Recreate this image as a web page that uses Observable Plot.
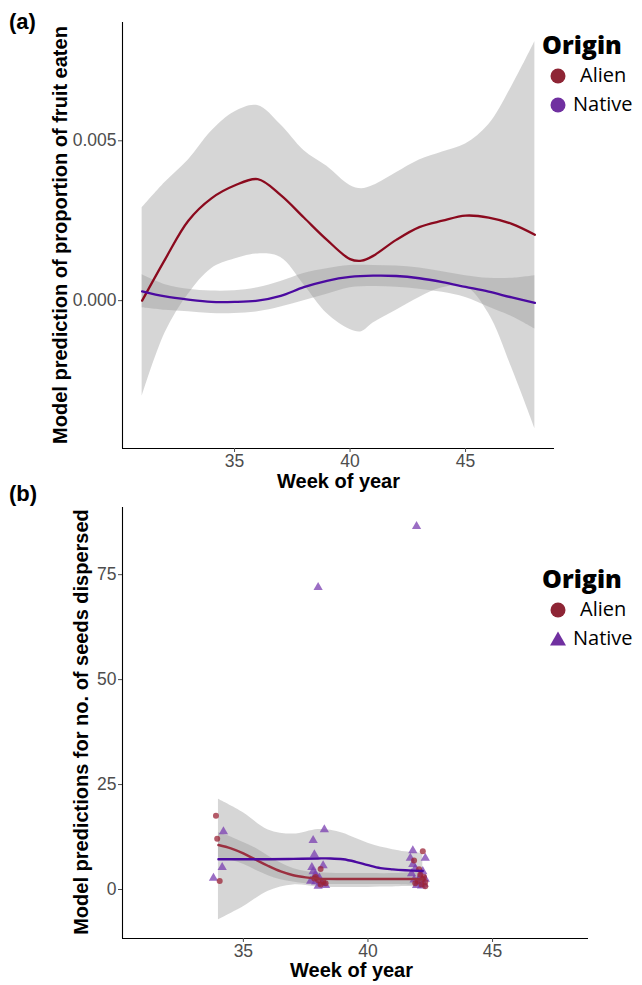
<!DOCTYPE html>
<html><head><meta charset="utf-8">
<script src="https://cdn.jsdelivr.net/npm/d3@7"></script>
<script src="https://cdn.jsdelivr.net/npm/@observablehq/plot@0.6"></script>
<style>
body{margin:0;background:#fff;}
#wrap{position:relative;width:642px;height:985px;overflow:hidden;font-family:"Liberation Sans",Arial,sans-serif;}
.abs{position:absolute;white-space:nowrap;}
.plabel{font-weight:bold;font-size:22px;color:#000;}
.axt{font-weight:bold;font-size:20px;color:#000;}
.legt{font-family:"Open Sans";font-weight:800;font-size:25px;color:#000;}
.legi{font-family:"Open Sans";font-size:20px;color:#000;}
svg text{font-size:17.5px;}
</style></head>
<body><div id="wrap"></div>
<script>
// ---------- Panel (a) data ----------
const xDomain = [30.15, 48.85];
const weekTicks = [35, 40, 45];
const yDomainA = [-0.004625, 0.0087];
const yTicksA = [0, 0.005];

const weeksAlienA = [31,32,33,34,35,36,37,38,39,40,40.5,41,42,43,44,45,46,47,48];
const fitAlienA = [0.0000,0.0013,0.0025,0.0032,0.0036,0.0038,0.0033,0.0026,0.0019,0.0013,0.00125,0.0014,0.0019,0.0023,0.0025,0.00266,0.0026,0.0024,0.00206];
const hiAlienA  = [0.0029,0.0037,0.0044,0.0053,0.0059,0.0061,0.0055,0.0047,0.0042,0.0036,0.0035,0.0036,0.0040,0.0044,0.00465,0.0049,0.0055,0.0067,0.0081];
const loAlienA  = [-0.0030,-0.0010,0.0002,0.0010,0.0013,0.00146,0.00135,0.0005,-0.0004,-0.0009,-0.00097,-0.0007,-0.0003,0.0001,0.0004,0.00045,-0.0004,-0.0021,-0.0040];

const weeksNativeA = [31,32,33,34,35,36,37,38,39,40,41,42,43,44,45,46,47,48];
const fitNativeA = [0.00029,0.00013,0.00003,-0.00004,-0.00004,0.0,0.00015,0.00042,0.00062,0.00074,0.00078,0.00077,0.0007,0.00058,0.00043,0.00028,0.0001,-0.00007];
const hiNativeA  = [0.00081,0.0005,0.00036,0.0003,0.00031,0.0004,0.0006,0.00085,0.001,0.0011,0.0011,0.00108,0.00102,0.0009,0.00078,0.0007,0.0007,0.00078];
const loNativeA  = [-0.00022,-0.0003,-0.00035,-0.0004,-0.0004,-0.00035,-0.0002,0.0,0.0002,0.0004,0.00044,0.00042,0.00036,0.00026,0.0001,-0.0002,-0.0005,-0.00089];

// ---------- Panel (b) data ----------
const yDomainB = [-11.67, 91];
const yTicksB = [0, 25, 50, 75];

const weeksAlienB = [34.0,34.5,35,35.5,36,36.5,37,37.5,38,39,40,41,42.2];
const fitAlienB = [10.6,9.8,8.6,7.1,5.6,4.3,3.4,2.9,2.6,2.5,2.5,2.5,2.5];
const hiAlienB  = [13.5,12.5,11.2,9.8,8.0,6.3,5.0,4.3,4.0,3.8,3.8,3.8,4.2];
const loAlienB  = [7.5,7.0,6.0,4.6,3.3,2.3,1.8,1.4,1.2,1.2,1.2,1.2,0.9];

const weeksNativeB = [34.0,35,36,37,38,38.5,39,39.5,40,40.5,41,41.5,42.2];
const fitNativeB = [7.2,7.2,7.2,7.3,7.4,7.4,7.2,6.6,5.8,5.1,4.8,4.6,4.4];
const hiNativeB  = [21.5,18.3,14.2,13.2,14.3,14.1,13.4,12.2,11.0,10.1,9.5,9.0,8.6];
const loNativeB  = [-7.2,-4.1,-0.4,1.1,0.6,0.5,0.5,0.5,0.5,0.6,0.6,0.7,0.5];

const alienPtWeek = [33.9,33.95,34.05, 38.1,37.9,38.0,38.2,38.3,37.85,38.1, 42.2,42.05,41.85,42.1,42.2,42.3,42.15,42.0,42.25,41.9,42.3];
const alienPtVal  = [17.6,12.1,2.0, 4.9,3.0,2.2,1.8,1.5,2.6,1.2, 9.1,4.8,6.9,3.5,2.5,1.8,1.2,2.0,3.0,1.5,0.8];
const nativePtWeek = [34.2,34.15,33.8, 38.0,38.25,37.8,37.85,38.2,37.75,37.8,37.9,38.05,37.7,38.15,38.3,38.0,37.9, 41.95,41.8,42.3,41.7,41.8,41.9,42.2,41.75,42.1,42.3,41.85,42.0,42.25,42.15,41.95];
const nativePtVal  = [13.8,5.3,2.7, 72.0,14.3,11.7,8.3,5.7,5.3,4.3,3.6,2.8,2.0,1.5,1.0,0.8,1.8, 86.5,9.3,7.5,7.5,6.0,5.0,4.3,3.8,3.2,2.5,2.3,1.8,1.3,0.9,1.0];

const originNames = ["Alien", "Native"];
const lineColA = {Alien: "#8B0A1E", Native: "#4B0AA0"};
const lineColB = {Alien: "#9B3040", Native: "#4B0AA0"};
const ptCol = {Alien: "#9B2335", Native: "#7A3DB0"};
const legCol = {Alien: "#8E2535", Native: "#7030A0"};

// ---------- helpers ----------
const rows = (w, fit, lo, hi, origin) => w.map((x, i) => ({w: x, fit: fit[i], lo: lo[i], hi: hi[i], origin}));
const ptsRows = (w, v, origin) => w.map((x, i) => ({w: x, v: v[i], origin}));

const wrap = document.getElementById("wrap");
function place(el, left, top) { el.style.position = "absolute"; el.style.left = left + "px"; el.style.top = top + "px"; wrap.appendChild(el); }
function txt(cls, s, left, top, rot) {
  const d = document.createElement("div"); d.className = "abs " + cls; d.textContent = s;
  d.style.left = left + "px"; d.style.top = top + "px";
  if (rot) { d.style.transform = "translate(-50%,-50%) rotate(-90deg)"; }
  wrap.appendChild(d); return d;
}
const baseStyle = {fontSize: "17.5px", fontFamily: "'Liberation Sans', Arial, sans-serif", background: "transparent", overflow: "visible"};

// ---------- Panel (a) ----------
const alienA = rows(weeksAlienA, fitAlienA, loAlienA, hiAlienA, "Alien");
const nativeA = rows(weeksNativeA, fitNativeA, loNativeA, hiNativeA, "Native");
const plotA = Plot.plot({
  width: 642, height: 490, marginLeft: 122, marginRight: 88, marginTop: 22, marginBottom: 42,
  style: baseStyle,
  x: {domain: xDomain}, y: {domain: yDomainA},
  marks: [
    Plot.areaY(alienA, {x: "w", y1: "lo", y2: "hi", fill: "#999999", fillOpacity: 0.4, curve: "catmull-rom"}),
    Plot.areaY(nativeA, {x: "w", y1: "lo", y2: "hi", fill: "#999999", fillOpacity: 0.4, curve: "catmull-rom"}),
    Plot.line(alienA, {x: "w", y: "fit", stroke: lineColA.Alien, strokeWidth: 2.3, curve: "catmull-rom"}),
    Plot.line(nativeA, {x: "w", y: "fit", stroke: lineColA.Native, strokeWidth: 2.3, curve: "catmull-rom"}),
    Plot.ruleX([xDomain[0]], {stroke: "#000", strokeWidth: 1.1}),
    Plot.ruleY([yDomainA[0]], {stroke: "#000", strokeWidth: 1.1}),
    Plot.axisX({ticks: weekTicks, tickSize: 4, tickPadding: 2, label: null, color: "#4D4D4D", fontSize: 17.5}),
    Plot.axisY({ticks: yTicksA, tickSize: 4, tickPadding: 2, label: null, color: "#4D4D4D", fontSize: 17.5, tickFormat: d3.format(".3f")})
  ]
});
place(plotA, 0, 0);

// ---------- Panel (b) ----------
const alienB = rows(weeksAlienB, fitAlienB, loAlienB, hiAlienB, "Alien");
const nativeB = rows(weeksNativeB, fitNativeB, loNativeB, hiNativeB, "Native");
const ptsB = [...ptsRows(alienPtWeek, alienPtVal, "Alien"), ...ptsRows(nativePtWeek, nativePtVal, "Native")];
const plotB = Plot.plot({
  width: 642, height: 495, marginLeft: 122, marginRight: 54, marginTop: 17, marginBottom: 47,
  style: baseStyle,
  x: {domain: xDomain}, y: {domain: yDomainB},
  symbol: {domain: originNames, range: ["circle", "triangle"]},
  marks: [
    Plot.areaY(nativeB, {x: "w", y1: "lo", y2: "hi", fill: "#999999", fillOpacity: 0.4, curve: "catmull-rom"}),
    Plot.areaY(alienB, {x: "w", y1: "lo", y2: "hi", fill: "#999999", fillOpacity: 0.4, curve: "catmull-rom"}),
    Plot.dot(ptsB, {x: "w", y: "v", symbol: "origin", fill: d => ptCol[d.origin], fillOpacity: 0.75, r: d => d.origin === "Alien" ? 2.6 : 3.4, stroke: "none"}),
    Plot.line(alienB, {x: "w", y: "fit", stroke: lineColB.Alien, strokeWidth: 2.4, curve: "catmull-rom"}),
    Plot.line(nativeB, {x: "w", y: "fit", stroke: lineColB.Native, strokeWidth: 2.4, curve: "catmull-rom"}),
    Plot.ruleX([xDomain[0]], {stroke: "#000", strokeWidth: 1.1}),
    Plot.ruleY([yDomainB[0]], {stroke: "#000", strokeWidth: 1.1}),
    Plot.axisX({ticks: weekTicks, tickSize: 4, tickPadding: 2, label: null, color: "#4D4D4D", fontSize: 17.5}),
    Plot.axisY({ticks: yTicksB, tickSize: 4, tickPadding: 2, label: null, color: "#4D4D4D", fontSize: 17.5})
  ]
});
place(plotB, 0, 490);

// ---------- text ----------
txt("plabel", "(a)", 9, 9);
txt("plabel", "(b)", 9, 481);
txt("axt", "Model prediction of proportion of fruit eaten", 60, 235, true);
txt("axt", "Week of year", 277, 470);
txt("axt", "Model predictions for no. of seeds dispersed", 81, 722, true);
txt("axt", "Week of year", 290, 959);

// ---------- legends ----------
function legend(top, shapes) {
  txt("legt", "Origin", 542, top);
  originNames.forEach((name, i) => {
    const cy = top + 49 + i * 29;
    const s = d3.create("svg").attr("width", 20).attr("height", 20);
    if (shapes[i] === "circle") s.append("circle").attr("cx", 10).attr("cy", 10).attr("r", 7.5).attr("fill", legCol[name]);
    else s.append("path").attr("d", "M10,2.5L18,16.5L2,16.5Z").attr("fill", legCol[name]);
    place(s.node(), 548, cy - 10);
    txt("legi", name, name === "Alien" ? 580 : 573, cy - 15);
  });
}
legend(27, ["circle", "circle"]);
legend(561, ["circle", "triangle"]);
</script></body></html>
